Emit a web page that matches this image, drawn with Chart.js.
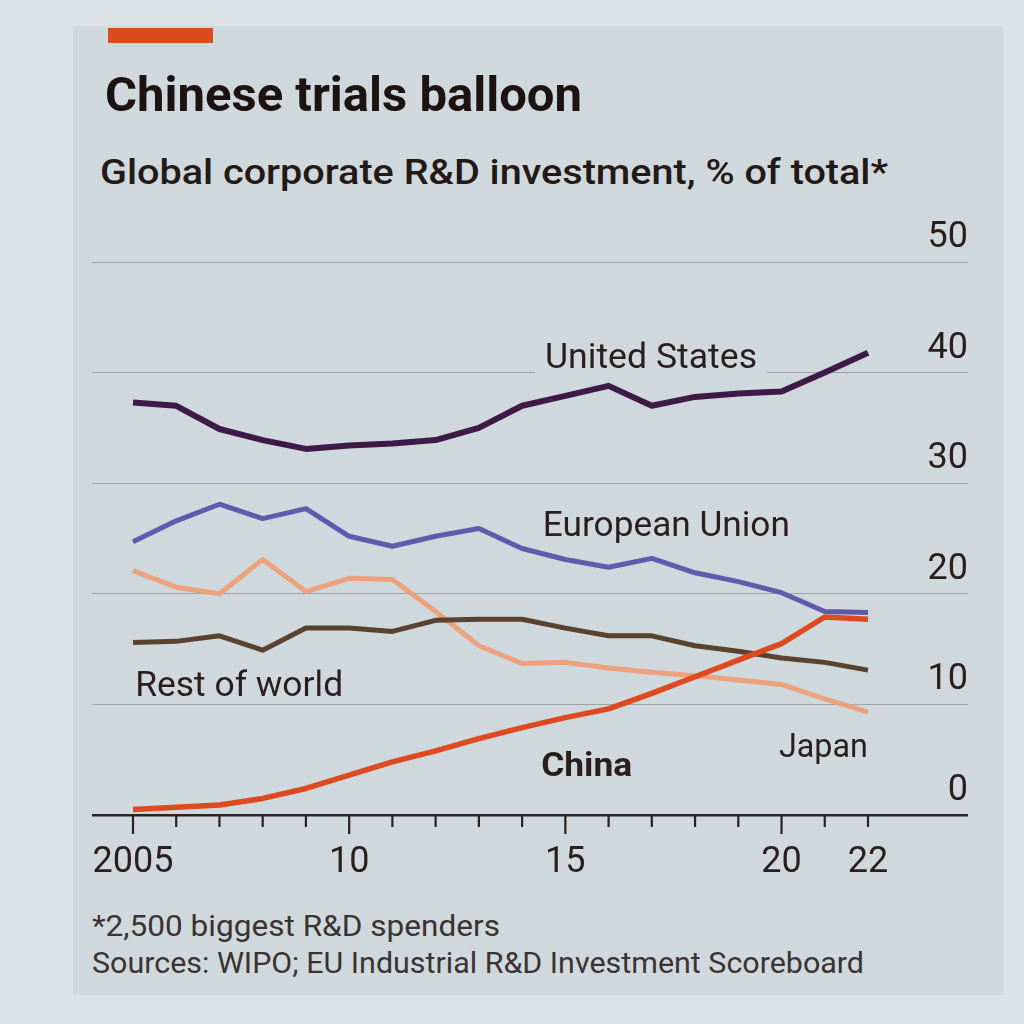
<!DOCTYPE html>
<html>
<head>
<meta charset="utf-8">
<script src="https://cdn.jsdelivr.net/npm/chart.js@4.4.1/dist/chart.umd.min.js"></script>
<style>
html,body{margin:0;padding:0;}
body{width:1024px;height:1024px;background:#dce3e6;position:relative;overflow:hidden;font-family:Roboto,"Liberation Sans",sans-serif;}
#panel{position:absolute;left:73px;top:26px;width:930px;height:969px;background:#cfd8dc;}
#bar{position:absolute;left:108px;top:28px;width:105px;height:15px;background:#dc4a1e;}
.t{position:absolute;white-space:nowrap;transform-origin:0 0;line-height:1;}
#title{left:105px;top:71px;font-size:48px;font-weight:700;color:#1d1311;}
#sub{left:100px;top:155px;font-size:35px;font-weight:500;color:#241915;}
#f1{left:92px;top:912px;font-size:29px;color:#3a3331;}
#f2{left:92px;top:949px;font-size:29px;color:#3a3331;}
canvas{position:absolute;left:0;top:0;}
</style>
</head>
<body>
<div id="panel"></div>
<div id="bar"></div>
<div class="t" id="title" data-w="477">Chinese trials balloon</div>
<div class="t" id="sub" data-w="788">Global corporate R&amp;D investment, % of total*</div>
<div class="t" id="f1" data-w="408">*2,500 biggest R&amp;D spenders</div>
<div class="t" id="f2" data-w="772">Sources: WIPO; EU Industrial R&amp;D Investment Scoreboard</div>
<canvas id="c" width="1024" height="1024"></canvas>
<script>
// ---- data ----
const years = [2005,2006,2007,2008,2009,2010,2011,2012,2013,2014,2015,2016,2017,2018,2019,2020,2021,2022];
const xTickLabels = ['2005','','','','','10','','','','','15','','','','','20','','22'];
const yTickValues = [0,10,20,30,40,50];
const seriesNames = ['China','United States','European Union','Rest of world','Japan'];
const china = [0.5,0.7,0.9,1.5,2.4,3.6,4.8,5.8,6.9,7.9,8.8,9.6,11.0,12.5,14.0,15.5,17.9,17.7];
const unitedStates = [37.3,37.0,34.9,33.9,33.1,33.4,33.6,33.9,35.0,37.0,37.9,38.8,37.0,37.8,38.1,38.3,40.0,41.8];
const europeanUnion = [24.7,26.6,28.1,26.8,27.7,25.2,24.3,25.2,25.9,24.1,23.1,22.4,23.2,21.9,21.1,20.1,18.4,18.3];
const restOfWorld = [15.6,15.7,16.2,14.9,16.9,16.9,16.6,17.6,17.7,17.7,16.9,16.2,16.2,15.3,14.8,14.2,13.8,13.1];
const japan = [22.1,20.6,20.0,23.1,20.2,21.4,21.3,18.4,15.3,13.7,13.8,13.3,12.9,12.6,12.2,11.8,10.5,9.3];

// fit HTML text widths
document.querySelectorAll('.t').forEach(el=>{
  const w = parseFloat(el.dataset.w);
  const s = w / el.getBoundingClientRect().width;
  el.style.transform = 'scaleX(' + s + ')';
});

const colors = ['#de4a1f','#3e1a47','#5f5aab','#5a4231','#eca27e'];
const widths = [5.5,6,5,5,5];
const seriesData = [china, unitedStates, europeanUnion, restOfWorld, japan];

// label placement (data coordinates, left/baseline) and style
const labelPlacement = [
  {name:'United States', x:2014.53, y:40.4, w:212, size:35, weight:400, knock:true},
  {name:'European Union', x:2014.48, y:25.2, w:247, size:35, weight:400},
  {name:'Rest of world', x:2005.05, y:10.75, w:208, size:35, weight:400},
  {name:'China', x:2014.44, y:3.55, w:91, size:34, weight:700},
  {name:'Japan', x:2019.94, y:5.2, w:89, size:33, weight:400}
];

const textColor = '#2a1f1c';

const annotate = {
  id:'annotate',
  afterDraw(chart){
    const ctx = chart.ctx, xs = chart.scales.x, ys = chart.scales.y, ca = chart.chartArea;
    ctx.save();
    // x tick marks
    ctx.strokeStyle = '#2b211e';
    ctx.lineWidth = 2.2;
    years.forEach((yr,i)=>{
      const px = xs.getPixelForValue(yr);
      const len = (yr % 5 === 0) ? 19 : 12;
      ctx.beginPath();
      ctx.moveTo(px, ca.bottom);
      ctx.lineTo(px, ca.bottom + len);
      ctx.stroke();
    });
    // series labels
    ctx.textBaseline = 'alphabetic';
    ctx.textAlign = 'left';
    labelPlacement.forEach(l=>{
      ctx.font = l.weight + ' ' + l.size + 'px Roboto, "Liberation Sans", sans-serif';
      const m = ctx.measureText(l.name).width;
      const px = xs.getPixelForValue(l.x), py = ys.getPixelForValue(l.y);
      if (l.knock){
        ctx.fillStyle = '#cfd8dc';
        ctx.fillRect(px - 10, py - l.size*0.8, l.w + 20, l.size*0.95);
      }
      ctx.fillStyle = textColor;
      ctx.save();
      ctx.translate(px, py);
      ctx.scale(l.w / m, 1);
      ctx.fillText(l.name, 0, 0);
      ctx.restore();
    });
    ctx.restore();
  }
};

new Chart(document.getElementById('c'), {
  type:'line',
  data:{
    labels: years,
    datasets: seriesNames.map((n,i)=>({
      label:n,
      data: seriesData[i].map((v,j)=>({x:years[j], y:v})),
      borderColor: colors[i],
      borderWidth: widths[i],
      pointRadius:0,
      tension:0,
      borderJoinStyle:'round',
      borderCapStyle:'butt',
      fill:false
    }))
  },
  options:{
    responsive:false,
    animation:false,
    devicePixelRatio:1,
    layout:{padding:{left:92, right:56, top:262, bottom:149}},
    plugins:{legend:{display:false}, tooltip:{enabled:false}},
    scales:{
      x:{
        type:'linear',
        min:2004.052, max:2024.313,
        grid:{display:false, drawTicks:false},
        border:{display:false},
        afterBuildTicks(scale){ scale.ticks = years.map(v=>({value:v})); },
        afterFit(scale){ scale.height = 60; },
        ticks:{
          autoSkip:false, maxRotation:0, padding:26,
          color:textColor,
          font:{family:'Roboto', size:36},
          callback(v){ const i = years.indexOf(v); return i >= 0 ? xTickLabels[i] : ''; }
        }
      },
      y:{
        position:'right',
        min:0, max:50,
        afterBuildTicks(scale){ scale.ticks = yTickValues.map(v=>({value:v})); },
        afterFit(scale){ scale.width = 0; },
        grid:{
          drawTicks:false,
          color(c){ return c.tick && c.tick.value === 0 ? '#2b211e' : '#9ea4a6'; },
          lineWidth(c){ return c.tick && c.tick.value === 0 ? 2.5 : 1; }
        },
        border:{display:false},
        ticks:{
          mirror:true, padding:0, labelOffset:-24, crossAlign:'near',
          color:textColor,
          font:{family:'Roboto', size:36},
          callback(v){ return String(v); }
        }
      }
    }
  },
  plugins:[annotate]
});
</script>
</body>
</html>
